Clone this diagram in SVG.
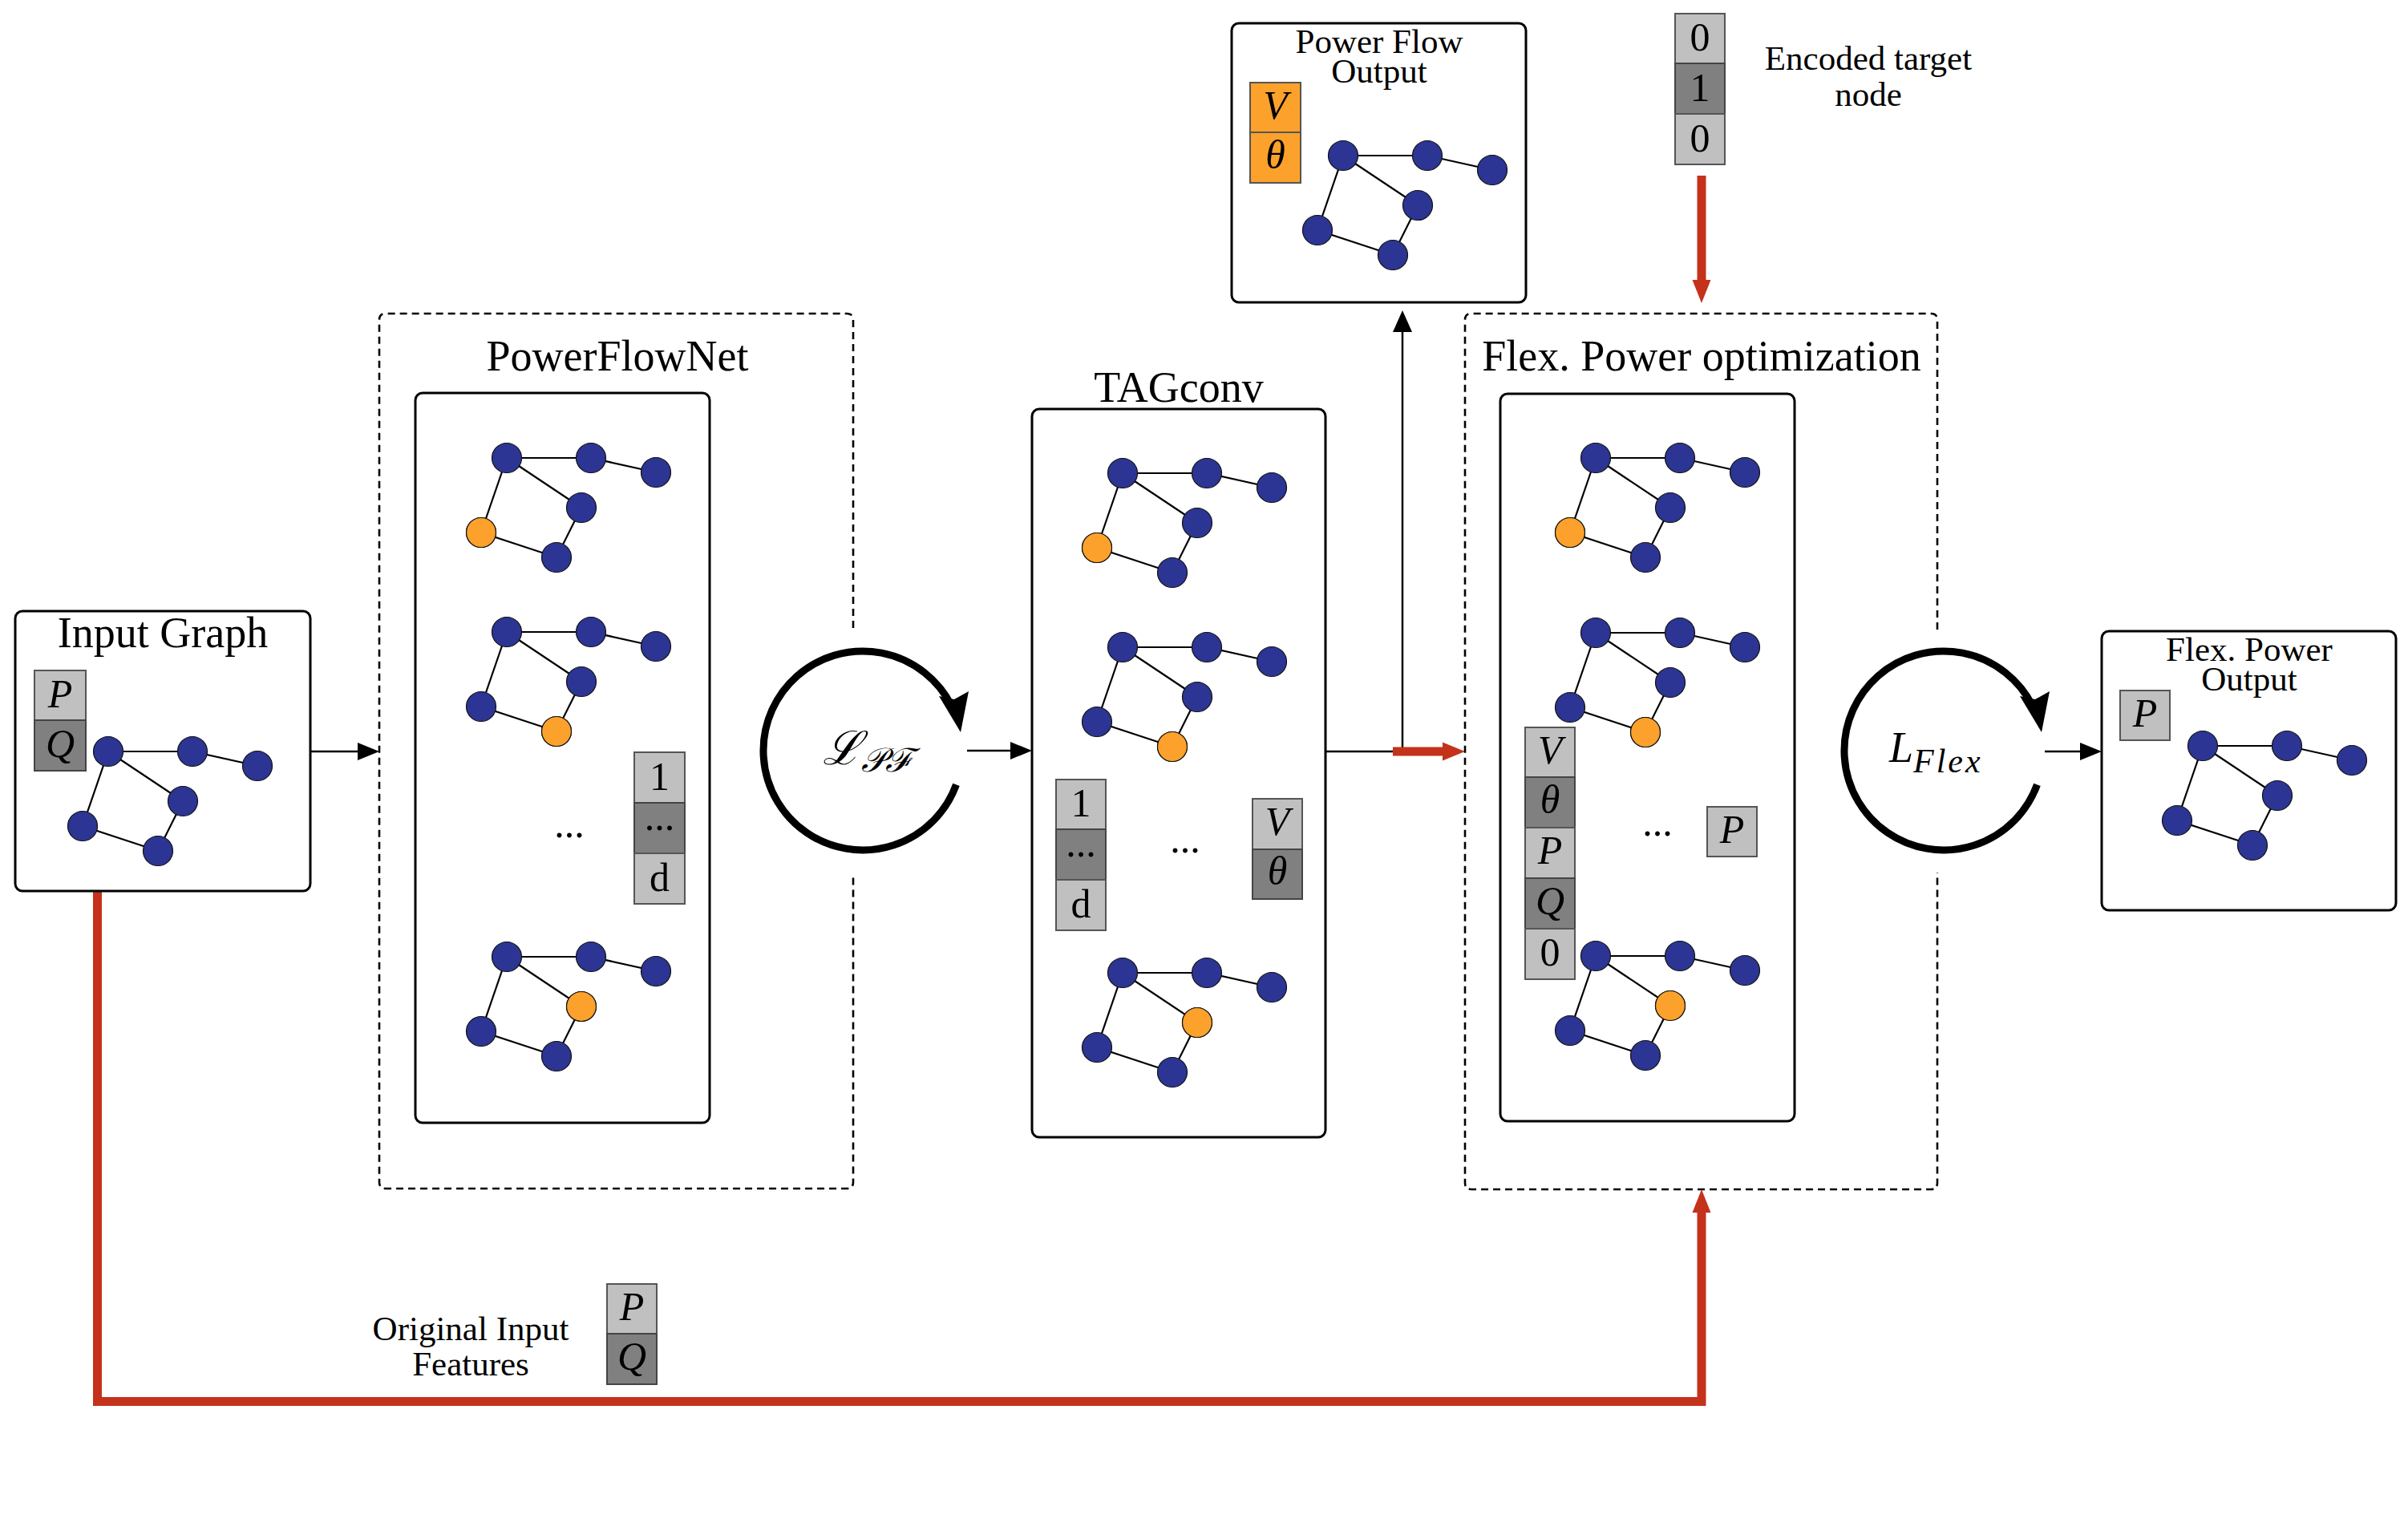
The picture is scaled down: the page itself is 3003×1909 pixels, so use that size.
<svg xmlns="http://www.w3.org/2000/svg" xmlns:xlink="http://www.w3.org/1999/xlink" width="3003" height="1909" viewBox="0 0 3003 1909">
<style>
.bg{fill:#ffffff}
.box{fill:#ffffff;stroke:#000;stroke-width:3}
.dash{fill:none;stroke:#000;stroke-width:2.6;stroke-dasharray:9 6}
.cl{fill:#c0c0c0;stroke:#555;stroke-width:2}
.cd{fill:#808080;stroke:#444;stroke-width:2}
.co{fill:#fba12c;stroke:#555;stroke-width:2}
.edge{fill:none;stroke:#000;stroke-width:2.2}
.nb{fill:#2c3593;stroke:#111;stroke-width:1.2}
.no{fill:#fba12c;stroke:#111;stroke-width:1.2}
.t{font-family:"Liberation Serif","Times New Roman",serif;fill:#000}
.big{font-size:54px}
.sm{font-size:43px}
.cell{font-size:50px}
.it{font-style:italic}
.mid{text-anchor:middle}
.conn{fill:none;stroke:#000;stroke-width:2.5}
.ah{fill:#000}
.red{fill:none;stroke:#c4321c;stroke-width:11}
.rah{fill:#c4321c}
.loop{fill:none;stroke:#000;stroke-width:9}
</style>
<defs>
<g id="graph">
<path class="edge" d="M0,0 H105 L186,18 M0,0 L93,62 M0,0 L-32,93 L62,124 L93,62"/>
<circle class="nb" cx="0" cy="0" r="18.5"/>
<circle class="nb" cx="105" cy="0" r="18.5"/>
<circle class="nb" cx="186" cy="18" r="18.5"/>
<circle class="nb" cx="93" cy="62" r="18.5"/>
<circle class="nb" cx="-32" cy="93" r="18.5"/>
<circle class="nb" cx="62" cy="124" r="18.5"/>
</g>
</defs>
<rect class="bg" x="0" y="0" width="3003" height="1909"/>

<g id="connectors">
<line class="conn" x1="387" y1="937" x2="447" y2="937"/>
<polygon class="ah" points="446,926 473,937 446,948"/>
<line class="conn" x1="1206" y1="936" x2="1261" y2="936"/>
<polygon class="ah" points="1260,925 1287,936 1260,947"/>
<line class="conn" x1="1653" y1="937" x2="1740" y2="937"/>
<line class="conn" x1="1749" y1="938" x2="1749" y2="413"/>
<polygon class="ah" points="1737,414 1749,387 1761,414"/>
<line class="conn" x1="2550" y1="937" x2="2595" y2="937"/>
<polygon class="ah" points="2594,926 2621,937 2594,948"/>
<line class="red" x1="1737" y1="937" x2="1800" y2="937"/>
<polygon class="rah" points="1799,925.5 1827,937 1799,948.5"/>
<line class="red" x1="2122" y1="219" x2="2122" y2="350"/>
<polygon class="rah" points="2110.5,349 2122,378 2133.5,349"/>
<polyline class="red" points="121.5,1111 121.5,1747.5 2122,1747.5 2122,1511"/>
<polygon class="rah" points="2110.5,1512 2122,1483 2133.5,1512"/>
</g>

<g id="input-graph">
<rect class="box" x="19" y="762" width="368" height="349" rx="9"/>
<text class="t big mid" x="203" y="807">Input Graph</text>
<rect class="cl" x="43" y="836" width="64" height="62"/>
<rect class="cd" x="43" y="898" width="64" height="63"/>
<text class="t cell it mid" x="75" y="882">P</text>
<text class="t cell it mid" x="75" y="944">Q</text>
<use xlink:href="#graph" href="#graph" x="135" y="937"/>
</g>

<g id="powerflownet">
<path class="dash" d="M1064,783 V399 Q1064,391 1056,391 H481 Q473,391 473,399 V1474 Q473,1482 481,1482 H1056 Q1064,1482 1064,1474 V1090"/>
<text class="t big mid" x="770" y="462">PowerFlowNet</text>
<rect class="box" x="518" y="490" width="367" height="910" rx="9"/>
<use xlink:href="#graph" href="#graph" x="632" y="571"/>
<circle class="no" cx="600" cy="664" r="18.5"/>
<use xlink:href="#graph" href="#graph" x="632" y="788"/>
<circle class="no" cx="694" cy="912" r="18.5"/>
<use xlink:href="#graph" href="#graph" x="632" y="1193"/>
<circle class="no" cx="725" cy="1255" r="18.5"/>
<text class="t cell mid" x="710" y="1044">...</text>
<rect class="cl" x="791" y="938" width="63" height="63"/>
<rect class="cd" x="791" y="1001" width="63" height="63"/>
<rect class="cl" x="791" y="1064" width="63" height="63"/>
<text class="t cell mid" x="822.5" y="985">1</text>
<text class="t cell mid" x="822.5" y="1035">...</text>
<text class="t cell mid" x="822.5" y="1111">d</text>
</g>

<g id="loss-pf">
<path class="loop" d="M1192.5,978.4 A124,124 0 1 1 1186.5,879.7"/>
<polygon class="ah" points="1198,913 1171,868 1190,872 1208,862"/>
<text class="t it" x="1026" y="953" font-size="58">ℒ<tspan font-size="42" dy="9">𝒫ℱ</tspan></text>
</g>

<g id="tagconv">
<text class="t big mid" x="1470" y="501">TAGconv</text>
<rect class="box" x="1287" y="510" width="366" height="908" rx="9"/>
<use xlink:href="#graph" href="#graph" x="1400" y="590"/>
<circle class="no" cx="1368" cy="683" r="18.5"/>
<use xlink:href="#graph" href="#graph" x="1400" y="807"/>
<circle class="no" cx="1462" cy="931" r="18.5"/>
<use xlink:href="#graph" href="#graph" x="1400" y="1213"/>
<circle class="no" cx="1493" cy="1275" r="18.5"/>
<rect class="cl" x="1317" y="972" width="62" height="62"/>
<rect class="cd" x="1317" y="1034" width="62" height="63"/>
<rect class="cl" x="1317" y="1097" width="62" height="63"/>
<text class="t cell mid" x="1348" y="1018">1</text>
<text class="t cell mid" x="1348" y="1068">...</text>
<text class="t cell mid" x="1348" y="1144">d</text>
<text class="t cell mid" x="1478" y="1063">...</text>
<rect class="cl" x="1562" y="996" width="62" height="63"/>
<rect class="cd" x="1562" y="1059" width="62" height="62"/>
<text class="t cell it mid" x="1593" y="1041">V</text>
<text class="t cell it mid" x="1593" y="1103">θ</text>
</g>

<g id="flex-optimization">
<path class="dash" d="M2416,785 V399 Q2416,391 2408,391 H1835 Q1827,391 1827,399 V1475 Q1827,1483 1835,1483 H2408 Q2416,1483 2416,1475 V1088"/>
<text class="t big mid" x="2122" y="462">Flex. Power optimization</text>
<rect class="box" x="1871" y="491" width="367" height="907" rx="9"/>
<use xlink:href="#graph" href="#graph" x="1990" y="571"/>
<circle class="no" cx="1958" cy="664" r="18.5"/>
<use xlink:href="#graph" href="#graph" x="1990" y="789"/>
<circle class="no" cx="2052" cy="913" r="18.5"/>
<use xlink:href="#graph" href="#graph" x="1990" y="1192"/>
<circle class="no" cx="2083" cy="1254" r="18.5"/>
<rect class="cl" x="1902" y="907" width="62" height="62"/>
<rect class="cd" x="1902" y="969" width="62" height="63"/>
<rect class="cl" x="1902" y="1032" width="62" height="63"/>
<rect class="cd" x="1902" y="1095" width="62" height="63"/>
<rect class="cl" x="1902" y="1158" width="62" height="63"/>
<text class="t cell it mid" x="1933" y="952">V</text>
<text class="t cell it mid" x="1933" y="1014">θ</text>
<text class="t cell it mid" x="1933" y="1077">P</text>
<text class="t cell it mid" x="1933" y="1140">Q</text>
<text class="t cell mid" x="1933" y="1204">0</text>
<text class="t cell mid" x="2067" y="1042">...</text>
<rect class="cl" x="2129" y="1006" width="62" height="62"/>
<text class="t cell it mid" x="2160" y="1051">P</text>
</g>

<g id="loss-flex">
<path class="loop" d="M2540.5,978.4 A124,124 0 1 1 2534.5,879.7"/>
<polygon class="ah" points="2546,913 2519,868 2538,872 2556,862"/>
<text class="t it" x="2356" y="950" font-size="54">L<tspan font-size="42" dy="13" letter-spacing="3">Flex</tspan></text>
</g>

<g id="power-flow-output">
<rect class="box" x="1536" y="29" width="367" height="348" rx="9"/>
<text class="t sm mid" x="1720" y="66">Power Flow</text>
<text class="t sm mid" x="1720" y="103">Output</text>
<rect class="co" x="1559" y="103" width="63" height="62"/>
<rect class="co" x="1559" y="165" width="63" height="63"/>
<text class="t cell it mid" x="1590.5" y="148">V</text>
<text class="t cell it mid" x="1590.5" y="210">θ</text>
<use xlink:href="#graph" href="#graph" x="1675" y="194"/>
</g>

<g id="encoded-target">
<rect class="cl" x="2089" y="17" width="62" height="62"/>
<rect class="cd" x="2089" y="79" width="62" height="63"/>
<rect class="cl" x="2089" y="142" width="62" height="63"/>
<text class="t cell mid" x="2120" y="63">0</text>
<text class="t cell mid" x="2120" y="126">1</text>
<text class="t cell mid" x="2120" y="189">0</text>
<text class="t sm mid" x="2330" y="87">Encoded target</text>
<text class="t sm mid" x="2330" y="132">node</text>
</g>

<g id="flex-power-output">
<rect class="box" x="2621" y="787" width="367" height="348" rx="9"/>
<text class="t sm mid" x="2805" y="824">Flex. Power</text>
<text class="t sm mid" x="2805" y="861">Output</text>
<rect class="cl" x="2644" y="861" width="62" height="62"/>
<text class="t cell it mid" x="2675" y="906">P</text>
<use xlink:href="#graph" href="#graph" x="2747" y="930"/>
</g>

<g id="original-input-features">
<text class="t sm mid" x="587" y="1671">Original Input</text>
<text class="t sm mid" x="587" y="1715">Features</text>
<rect class="cl" x="757" y="1601" width="62" height="62"/>
<rect class="cd" x="757" y="1663" width="62" height="63"/>
<text class="t cell it mid" x="788" y="1646">P</text>
<text class="t cell it mid" x="788" y="1708">Q</text>
</g>
</svg>
